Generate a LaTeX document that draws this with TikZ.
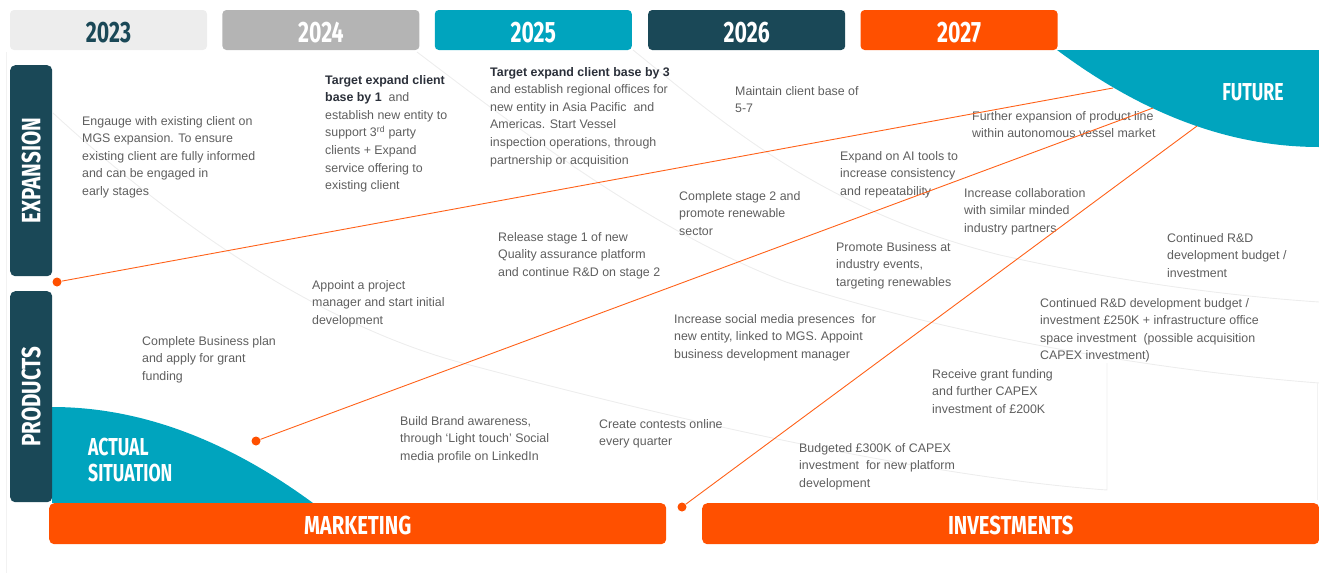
\documentclass[tikz,border=0pt]{standalone}
\usepackage{fontspec}
\usepackage{graphicx}
\setmainfont{Liberation Sans}
\newfontfamily\headfont[FakeStretch=0.72]{Fira Sans}
\newfontfamily\lanefont[FakeStretch=0.78]{Fira Sans}
\usetikzlibrary{positioning}

\definecolor{petrol}{HTML}{1A4857}
\definecolor{lagoon}{HTML}{00A4BE}
\definecolor{flame}{HTML}{FF5000}
\definecolor{mist}{HTML}{EDEDED}
\definecolor{stone}{HTML}{B4B4B4}
\definecolor{ink}{HTML}{5E5E5E}
\definecolor{inkdark}{HTML}{2B303A}

\begin{document}
\begin{tikzpicture}[x=1pt, y=-1pt,
    yearbox/.style  = {rectangle, rounded corners=4pt, minimum width=197pt, minimum height=40pt,
                       inner sep=0pt, text height=24pt, text depth=0pt,
                       font=\headfont\bfseries\fontsize{29.5}{29.5}\selectfont},
    lanebox/.style  = {rectangle, rounded corners=5pt, fill=petrol, text=white, minimum width=42pt,
                       minimum height=211pt, inner sep=0pt, anchor=north west,
                       font=\lanefont\bfseries\fontsize{26.5}{26.5}\selectfont},
    footbox/.style  = {rectangle, rounded corners=5pt, fill=flame, text=white, minimum width=617pt,
                       minimum height=41pt, inner sep=0pt, anchor=north west,
                       text height=22pt, text depth=0pt,
                       font=\lanefont\bfseries\fontsize{26}{26}\selectfont},
    corner/.style   = {text=white, align=left, inner sep=0pt,
                       font=\headfont\bfseries\fontsize{24.5}{26}\selectfont},
    note/.style     = {anchor=north west, inner sep=0pt, align=left, text=ink,
                       font=\fontsize{12.4}{17.6}\selectfont},
    dot/.style      = {circle, fill=flame, minimum size=9pt, inner sep=0pt},
    link/.style     = {draw=flame!90!white, line width=0.9pt},
    swoosh/.style   = {draw=black!7, line width=0.9pt},
]

\useasboundingbox (0,0) rectangle (1319,573);

% faint swooshes in the back
\draw[swoosh] (53,113) .. controls (180,230) and (330,330) .. (470,365)
              .. controls (620,405) and (900,475) .. (1107,490) -- (1107,363);
\draw[swoosh] (417,52) .. controls (520,130) and (650,230) .. (786,282)
              .. controls (950,335) and (1150,370) .. (1319,383);
\draw[swoosh] (633,50) .. controls (720,120) and (820,210) .. (1000,255)
              .. controls (1120,282) and (1230,296) .. (1319,302);
\draw[black!5, line width=0.8pt] (6,52) -- (6,573);
\draw[black!5, line width=0.8pt] (1317,383) -- (1317,500);

% corners: actual situation / future
\fill[lagoon] (52,407) .. controls (139,407) and (226,439) .. (313,503) -- (52,503) -- cycle;
\fill[lagoon] (1057,50) .. controls (1144,115) and (1231,147) .. (1319,147) -- (1319,50) -- cycle;
\node[corner, anchor=west] (now) at (88,460) {ACTUAL\\SITUATION};
\node[corner] (future) at (1253,92) {FUTURE};

% years
\node[yearbox, fill=mist, text=petrol] (y2023) at (108.5,30) {2023};
\node[yearbox, fill=stone, text=white, right=15pt of y2023] (y2024) {2024};
\node[yearbox, fill=lagoon, text=white, right=15pt of y2024] (y2025) {2025};
\node[yearbox, fill=petrol, text=white, right=16pt of y2025] (y2026) {2026};
\node[yearbox, fill=flame, text=white, right=15pt of y2026] (y2027) {2027};

% lanes
\node[lanebox] (expansion) at (10,65)  {\rotatebox{90}{EXPANSION}};
\node[lanebox] (products)  at (10,291) {\rotatebox{90}{PRODUCTS}};
\node[footbox] (marketing)   at (49,503)  {MARKETING};
\node[footbox] (investments) at (702,503) {INVESTMENTS};

% milestones
\node[note] (n1) at (82,116) {Engauge with existing client on\\MGS expansion. To ensure\\existing client are fully informed\\and can be engaged in\\early stages};
\node[note] (n2) at (325,75) {{\color{inkdark}\bfseries Target expand client}\\{\color{inkdark}\bfseries base by 1}~ and\\establish new entity to\\support 3\textsuperscript{rd} party\\clients + Expand\\service offering to\\existing client};
\node[note] (n3) at (490,67) {{\color{inkdark}\bfseries Target expand client base by 3}\\and establish regional offices for\\new entity in Asia Pacific~ and\\Americas. Start Vessel\\inspection operations, through\\partnership or acquisition};
\node[note] (n4) at (735,86) {Maintain client base of\\5-7};
\node[note] (n5) at (972,111) {Further expansion of product line\\within autonomous vessel market};
\node[note] (n6) at (840,151) {Expand on AI tools to\\increase consistency\\and repeatability};
\node[note] (n7) at (964,188) {Increase collaboration\\with similar minded\\industry partners};
\node[note] (n8) at (679,191) {Complete stage 2 and\\promote renewable\\sector};
\node[note] (n9) at (498,232) {Release stage 1 of new\\Quality assurance platform\\and continue R\&D on stage 2};
\node[note] (n10) at (1167,233) {Continued R\&D\\development budget /\\investment};
\node[note] (n11) at (836,242) {Promote Business at\\industry events,\\targeting renewables};
\node[note] (n12) at (312,280) {Appoint a project\\manager and start initial\\development};
\node[note] (n13) at (1040,298) {Continued R\&D development budget /\\investment £250K + infrastructure office\\space investment~ (possible acquisition\\CAPEX investment)};
\node[note] (n14) at (674,314) {Increase social media presences~ for\\new entity, linked to MGS. Appoint\\business development manager};
\node[note] (n15) at (142,336) {Complete Business plan\\and apply for grant\\funding};
\node[note] (n16) at (932,369) {Receive grant funding\\and further CAPEX\\investment of £200K};
\node[note] (n17) at (400,416) {Build Brand awareness,\\through ‘Light touch’ Social\\media profile on LinkedIn};
\node[note] (n18) at (599,419) {Create contests online\\every quarter};
\node[note] (n19) at (799,443) {Budgeted £300K of CAPEX\\investment~ for new platform\\development};

% paths towards the future
\node[dot] (d1) at (57,282) {};
\node[dot] (d2) at (256,441) {};
\node[dot] (d3) at (682,507) {};
\coordinate (f1) at (1113,88);
\coordinate (f2) at (1153,108);
\coordinate (f3) at (1197,126);
\draw[link] (d1) -- (f1);
\draw[link] (d2) -- (f2);
\draw[link] (d3) -- (f3);

\end{tikzpicture}
\end{document}
